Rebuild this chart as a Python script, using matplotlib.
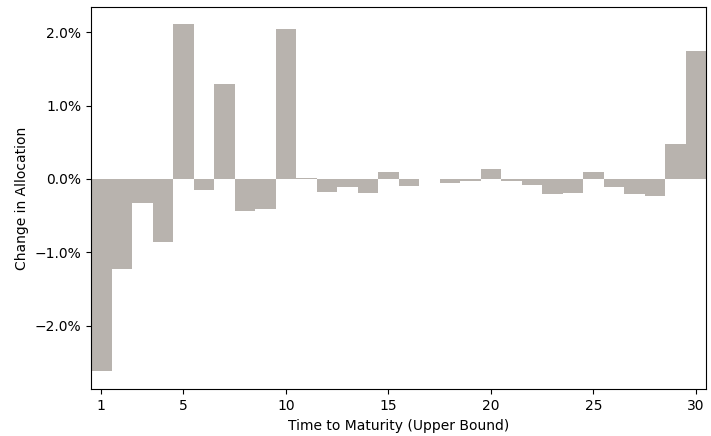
import numpy as np
import matplotlib
matplotlib.use("Agg")
import matplotlib.pyplot as plt
from matplotlib.ticker import PercentFormatter

# maturity buckets (upper bound, years) and change in allocation (fraction)
maturity = list(range(1, 31))
change = [-0.0262, -0.0123, -0.0033, -0.0086, 0.0211, -0.00155, 0.0129, -0.0044,
          -0.0041, 0.0205, 0.0001, -0.0018, -0.0011, -0.00195, 0.0010, -0.0010,
          0.0, -0.0005, -0.0003, 0.0014, -0.00027, -0.00086, -0.0021, -0.0019,
          0.0010, -0.0011, -0.00205, -0.0024, 0.0048, 0.0174]
xticks = [1, 5, 10, 15, 20, 25, 30]

fig = plt.figure(figsize=(7.11, 4.36), dpi=100)
ax = fig.add_axes([0.128, 0.107, 0.865, 0.878])

ax.bar(maturity, change, width=1.0, color="#b8b3ae", linewidth=0)

ax.set_xlim(0.5, 30.5)
ax.set_ylim(-0.0287, 0.0235)
ax.set_xticks(xticks)
ax.yaxis.set_major_formatter(PercentFormatter(xmax=1, decimals=1))
ax.set_xlabel("Time to Maturity (Upper Bound)")
ax.set_ylabel("Change in Allocation")

fig.savefig("out.png", dpi=100)
